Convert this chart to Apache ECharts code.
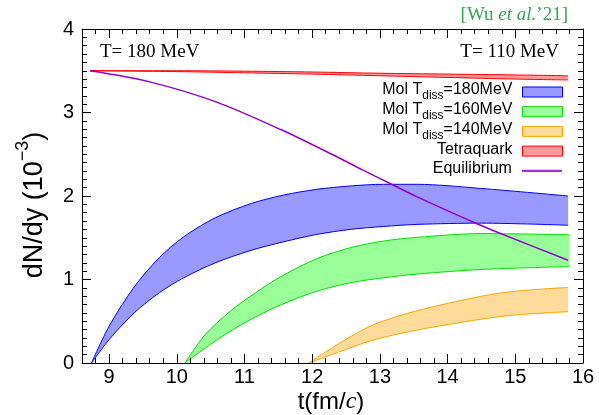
<!DOCTYPE html>
<html><head><meta charset="utf-8">
<script src="https://cdn.jsdelivr.net/npm/echarts@6/dist/echarts.min.js"></script>
<style>html,body{margin:0;padding:0;background:#fff}#c{width:599px;height:415px}</style>
</head><body><div id="c"></div>
<script>
// ---- data ----
const xTicks = [9, 10, 11, 12, 13, 14, 15, 16];
const tBlue = [8.74, 9.0, 9.37, 9.74, 10.1, 10.57, 11.1, 11.57, 12.07, 12.56, 13.05, 13.55, 14.5, 15.78];
const blueUpper = [0, 0.44, 0.91, 1.26, 1.51, 1.74, 1.91, 2.01, 2.08, 2.12, 2.14, 2.14, 2.09, 2.00];
const blueLower = [0, 0.28, 0.60, 0.84, 1.02, 1.20, 1.35, 1.45, 1.54, 1.60, 1.635, 1.66, 1.675, 1.65];
const tGreen = [10.12, 10.42, 10.79, 11.16, 11.55, 12.07, 12.56, 13.05, 13.55, 14.5, 15.8];
const greenUpper = [0, 0.34, 0.62, 0.84, 1.04, 1.25, 1.38, 1.46, 1.505, 1.55, 1.535];
const greenLower = [0, 0.18, 0.38, 0.55, 0.70, 0.86, 0.96, 1.02, 1.065, 1.12, 1.155];
const tOrange = [11.95, 12.39, 12.88, 13.52, 14.5, 15.0, 15.78];
const orangeUpper = [0, 0.23, 0.45, 0.62, 0.80, 0.86, 0.905];
const orangeLower = [0, 0.13, 0.27, 0.39, 0.525, 0.575, 0.615];
const tTetra = [8.72, 10, 11, 12, 13, 14, 15, 15.78];
const tetraUpper = [3.50, 3.50, 3.495, 3.485, 3.47, 3.46, 3.45, 3.44];
const tetraLower = [3.50, 3.49, 3.475, 3.46, 3.44, 3.42, 3.40, 3.39];
const tEq = [8.72, 9.585, 10.57, 11.55, 12.29, 12.75, 13.15, 13.55, 14.4, 14.8, 15.78];
const eqValues = [3.50, 3.37, 3.13, 2.79, 2.50, 2.31, 2.15, 1.99, 1.68, 1.545, 1.23];
const names = ['Mol T_diss=180MeV', 'Mol T_diss=160MeV', 'Mol T_diss=140MeV', 'Tetraquark', 'Equilibrium'];

// ---- build ----
const SMOOTH = 0.3;
// values come first so the stack is applied on the y dimension
function band(name, t, lo, hi, stroke, fill, id) {
  return [
    { type: 'line', name: id + '-lower', stack: id, stackStrategy: 'all', encode: { x: 1, y: 0 },
      data: t.map((x, i) => [lo[i], x]), smooth: SMOOTH,
      symbol: 'none', lineStyle: { color: stroke, width: 1 }, itemStyle: { color: stroke }, z: 4, silent: true },
    { type: 'line', name: name, stack: id, stackStrategy: 'all', encode: { x: 1, y: 0 },
      data: t.map((x, i) => [hi[i] - lo[i], x]), smooth: SMOOTH,
      symbol: 'none', lineStyle: { color: stroke, width: 1 }, itemStyle: { color: stroke },
      areaStyle: { color: fill, opacity: 1 }, z: 3, silent: true }
  ];
}
const colors = {
  blue: ['#0000ff', '#9999ff'], green: ['#00e000', '#99ff99'], orange: ['#ffa500', '#ffdb99'],
  red: ['#ff0000', '#ff9999'], eq: '#9400d3'
};
const series = [].concat(
  band(names[0], tBlue, blueLower, blueUpper, colors.blue[0], colors.blue[1], 'b'),
  band(names[1], tGreen, greenLower, greenUpper, colors.green[0], colors.green[1], 'g'),
  band(names[2], tOrange, orangeLower, orangeUpper, colors.orange[0], colors.orange[1], 'o'),
  band(names[3], tTetra, tetraLower, tetraUpper, colors.red[0], colors.red[1], 'r'),
  [{ type: 'line', name: names[4], data: tEq.map((x, i) => [x, eqValues[i]]), smooth: SMOOTH,
     symbol: 'none', lineStyle: { color: colors.eq, width: 1.5 }, itemStyle: { color: colors.eq }, z: 5, silent: true }]
);

const FONT = 'Liberation Sans';
const lineStyle = { color: '#000', width: 1 };
function xMajor(pos, labels) {
  return { type: 'value', position: pos, min: 8.6, max: 16, z: 10,
    axisLine: { show: true, onZero: false, lineStyle },
    axisTick: { show: true, inside: true, length: 9, customValues: xTicks, lineStyle: { color: '#000' } },
    axisLabel: { show: labels, customValues: xTicks, fontSize: 20, fontFamily: FONT, color: '#000', margin: 4 },
    splitLine: { show: false } };
}
function xMinor(pos) {
  return { type: 'value', position: pos, min: 8.6, max: 16, interval: 0.2, z: 10,
    axisLine: { show: false, onZero: false },
    axisTick: { show: true, inside: true, length: 5, lineStyle: { color: '#000' } },
    axisLabel: { show: false }, splitLine: { show: false } };
}
function yAx(pos, labels) {
  return { type: 'value', position: pos, min: 0, max: 4, interval: 1, z: 10,
    axisLine: { show: true, onZero: false, lineStyle },
    axisTick: { show: true, inside: true, length: 9, lineStyle: { color: '#000' } },
    minorTick: { show: true, splitNumber: 10, length: 5, lineStyle: { color: '#000' } },
    axisLabel: { show: labels, fontSize: 20, fontFamily: FONT, color: '#000', margin: 8 },
    splitLine: { show: false }, minorSplitLine: { show: false } };
}

const clear = 'rgba(0,0,0,0)';
const legendItems = [
  { name: names[0], icon: 'rect', itemStyle: { color: colors.blue[1], borderColor: colors.blue[0], borderWidth: 1 } },
  { name: names[1], icon: 'rect', itemStyle: { color: colors.green[1], borderColor: colors.green[0], borderWidth: 1 } },
  { name: names[2], icon: 'rect', itemStyle: { color: colors.orange[1], borderColor: colors.orange[0], borderWidth: 1 } },
  { name: names[3], icon: 'rect', itemStyle: { color: colors.red[1], borderColor: colors.red[0], borderWidth: 1 } },
  { name: names[4], itemStyle: { color: clear, borderColor: clear, borderWidth: 0, opacity: 0 },
    lineStyle: { color: '#a030e0', width: 2.2 } }
];
const legends = legendItems.map((item, i) => ({
  orient: 'vertical', align: 'right', right: 36, top: 82 + i * 19.7, padding: 0,
  itemWidth: 40, itemHeight: 10, itemGap: 0, selectedMode: false, data: [item],
  formatter: function (n) {
    const m = n.match(/^Mol T_diss=(.*)$/);
    return m ? '{a|Mol T}{s|diss}{a|=' + m[1] + '}' : '{a|' + n + '}';
  },
  textStyle: {
    padding: [0, 5, 0, 0],
    rich: {
      a: { fontSize: 16, fontFamily: FONT, color: '#000', lineHeight: 20, verticalAlign: 'top' },
      s: { fontSize: 12, fontFamily: FONT, color: '#000', lineHeight: 10, padding: [8, 0, 0, 0], verticalAlign: 'top' }
    }
  }
}));

const option = {
  animation: false,
  backgroundColor: '#fff',
  grid: { left: 82, right: 16, top: 29, bottom: 52 },
  xAxis: [xMajor('bottom', true), xMinor('bottom'), xMajor('top', false), xMinor('top')],
  yAxis: [yAx('left', true), yAx('right', false)],
  legend: legends,
  graphic: [
    { type: 'text', x: 31, y: 205, rotation: Math.PI / 2, silent: true,
      style: { text: '{n|dN/dy (10}{s|−3}{n|)}', align: 'center', verticalAlign: 'middle',
        rich: { n: { fontSize: 27, fontFamily: FONT, fill: '#000', lineHeight: 34, verticalAlign: 'bottom' },
                s: { fontSize: 18, fontFamily: FONT, fill: '#000', lineHeight: 18, verticalAlign: 'top' } } } },
    { type: 'text', x: 331, y: 402, silent: true,
      style: { text: '{n|t(fm/}{i|c}{n|)}', align: 'center', verticalAlign: 'middle',
        rich: { n: { fontSize: 24, fontFamily: FONT, fill: '#000' },
                i: { fontSize: 24, fontFamily: 'Liberation Serif', fontStyle: 'italic', fill: '#000' } } } },
    { type: 'text', x: 100, y: 52, silent: true,
      style: { text: 'T= 180 MeV', font: '19px "Liberation Serif"', fill: '#000', align: 'left', verticalAlign: 'middle' } },
    { type: 'text', x: 559, y: 52, silent: true,
      style: { text: 'T= 110 MeV', font: '19px "Liberation Serif"', fill: '#000', align: 'right', verticalAlign: 'middle' } },
    { type: 'text', x: 568, y: 15, silent: true,
      style: { text: '{n|[Wu }{i|et al.}{n|’21]}', align: 'right', verticalAlign: 'middle',
        rich: { n: { fontSize: 19, fontFamily: 'Liberation Serif', fill: '#2fa55a' },
                i: { fontSize: 19, fontFamily: 'Liberation Serif', fontStyle: 'italic', fill: '#2fa55a' } } } }
  ],
  series: series
};
const chart = echarts.init(document.getElementById('c'), null, { renderer: 'canvas' });
chart.setOption(option);
</script>
</body></html>
